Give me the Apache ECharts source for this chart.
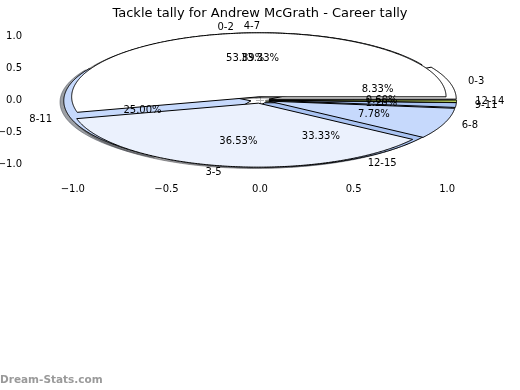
<!DOCTYPE html>
<html><head><meta charset="utf-8">
<script src="https://cdn.jsdelivr.net/npm/echarts@6/dist/echarts.min.js"></script>
<style>html,body{margin:0;padding:0;background:#fff}#c{width:520px;height:390px}</style>
</head><body><div id="c"></div>
<script>
const titleText = 'Tackle tally for Andrew McGrath - Career tally';
const watermarkText = 'Dream-Stats.com';
// pie A (3-wide bins) counts
const pieALabels = ['0-2', '3-5', '6-8', '9-11', '12-14'];
const pieAValues = [90, 61, 13, 2, 1];
// pie B (4-wide bins) counts
const pieBLabels = ['0-3', '4-7', '8-11', '12-15'];
const pieBValues = [1, 4, 3, 4];
const tickValues = [-1.0, -0.5, 0.0, 0.5, 1.0];

const palette = ['#ffffff', '#ebf1fd', '#c6d9fc', '#a9c3f2', '#c9e265'];
const EXPLODE = 0.05, LABEL_D = 1.1, PCT_D = 0.6, SHX = -0.02, SHY = -0.02;
const FONT = "'DejaVu Sans', sans-serif";

function buildWedges(labels, values) {
  const total = values.reduce((a, b) => a + b, 0);
  let acc = 0;
  return values.map((v, i) => {
    const t1 = acc / total * 360; acc += v; const t2 = acc / total * 360;
    return { name: labels[i], value: [t1, t2], pct: v / total * 100, color: palette[i % palette.length] };
  });
}
const wedgesA = buildWedges(pieALabels, pieAValues);
const wedgesB = buildWedges(pieBLabels, pieBValues);

function hexToRgb(h) { const n = parseInt(h.slice(1), 16); return [(n >> 16) & 255, (n >> 8) & 255, n & 255]; }

function wedgePoints(api, t1, t2, dx, dy) {
  const mid = (t1 + t2) / 2 * Math.PI / 180;
  const cx = EXPLODE * Math.cos(mid) + dx, cy = EXPLODE * Math.sin(mid) + dy;
  const pts = [api.coord([cx, cy])];
  const n = Math.max(2, Math.ceil((t2 - t1) / 0.5));
  for (let k = 0; k <= n; k++) {
    const a = (t1 + (t2 - t1) * k / n) * Math.PI / 180;
    pts.push(api.coord([cx + Math.cos(a), cy + Math.sin(a)]));
  }
  return pts;
}

function wedgeRender(list) {
  return function (params, api) {
    const w = list[params.dataIndex];
    return {
      type: 'polygon',
      shape: { points: wedgePoints(api, w.value[0], w.value[1], 0, 0) },
      style: { fill: w.color, stroke: '#000', lineWidth: 1, lineJoin: 'miter' }
    };
  };
}
const allWedges = wedgesB.concat(wedgesA);
function shadowRender(params, api) {
  const w = allWedges[params.dataIndex];
  const c = hexToRgb(w.color).map(x => Math.round(x * 0.3));
  const col = 'rgba(' + c.join(',') + ',0.5)';
  return {
    type: 'polygon',
    shape: { points: wedgePoints(api, w.value[0], w.value[1], SHX, SHY) },
    style: { fill: col, stroke: col, lineWidth: 1 }
  };
}

// label items
const labelItems = [];
[wedgesB, wedgesA].forEach(list => {
  list.forEach(w => {
    const mid = (w.value[0] + w.value[1]) / 2 * Math.PI / 180;
    const ex = EXPLODE * Math.cos(mid), ey = EXPLODE * Math.sin(mid);
    const xt = ex + LABEL_D * Math.cos(mid), yt = ey + LABEL_D * Math.sin(mid);
    labelItems.push({ value: [xt, yt], text: w.name, align: xt > 1e-9 ? 'left' : 'right' });
    labelItems.push({ value: [ex + PCT_D * Math.cos(mid), ey + PCT_D * Math.sin(mid)], text: w.pct.toFixed(2) + '%', align: 'center' });
  });
});

const fmt = v => (v < 0 ? '\u2212' : '') + Math.abs(v).toFixed(1);
const tickCol = '#b5b5b5';
function axisCommon(showLabel) {
  return {
    type: 'value', min: -1.25, max: 1.25,
    axisLine: { show: false }, splitLine: { show: false },
    axisTick: { show: true, inside: true, length: 4, customValues: tickValues, lineStyle: { color: tickCol, width: 1 } },
    axisLabel: { show: showLabel, customValues: tickValues, formatter: fmt, color: '#000', fontFamily: FONT, fontSize: 10, margin: 4 }
  };
}

const chart = echarts.init(document.getElementById('c'), null, { renderer: 'canvas' });
chart.setOption({
  animation: false,
  backgroundColor: '#fff',
  title: { text: titleText, left: 'center', top: 2, textStyle: { fontFamily: FONT, fontSize: 13, fontWeight: 'normal', color: '#000' } },
  grid: { left: 26, right: 26, top: 20, bottom: 210, containLabel: false, outerBoundsMode: 'none' },
  xAxis: [Object.assign(axisCommon(true), { position: 'bottom' }), Object.assign(axisCommon(false), { position: 'top' })],
  yAxis: [Object.assign(axisCommon(true), { position: 'left' }), Object.assign(axisCommon(false), { position: 'right' })],
  graphic: [{ type: 'text', left: 0, top: 375, style: { text: watermarkText, fill: '#9a9a9a', font: "bold 10.5px " + FONT } }],
  series: [
    { type: 'custom', z: 1, renderItem: shadowRender, data: allWedges.map(w => w.value), encode: { x: 0, y: 1 } },
    { type: 'custom', z: 2, renderItem: wedgeRender(wedgesB), data: wedgesB.map(w => w.value), encode: { x: 0, y: 1 } },
    { type: 'custom', z: 3, renderItem: wedgeRender(wedgesA), data: wedgesA.map(w => w.value), encode: { x: 0, y: 1 } },
    { type: 'custom', z: 4, renderItem: function (params, api) {
        const it = labelItems[params.dataIndex];
        const p = api.coord(it.value);
        return { type: 'text', x: p[0], y: p[1], style: { text: it.text, fill: '#000', font: '10px ' + FONT, align: it.align, verticalAlign: 'middle' } };
      }, data: labelItems.map(it => it.value), encode: { x: 0, y: 1 } }
  ]
});
</script></body></html>
